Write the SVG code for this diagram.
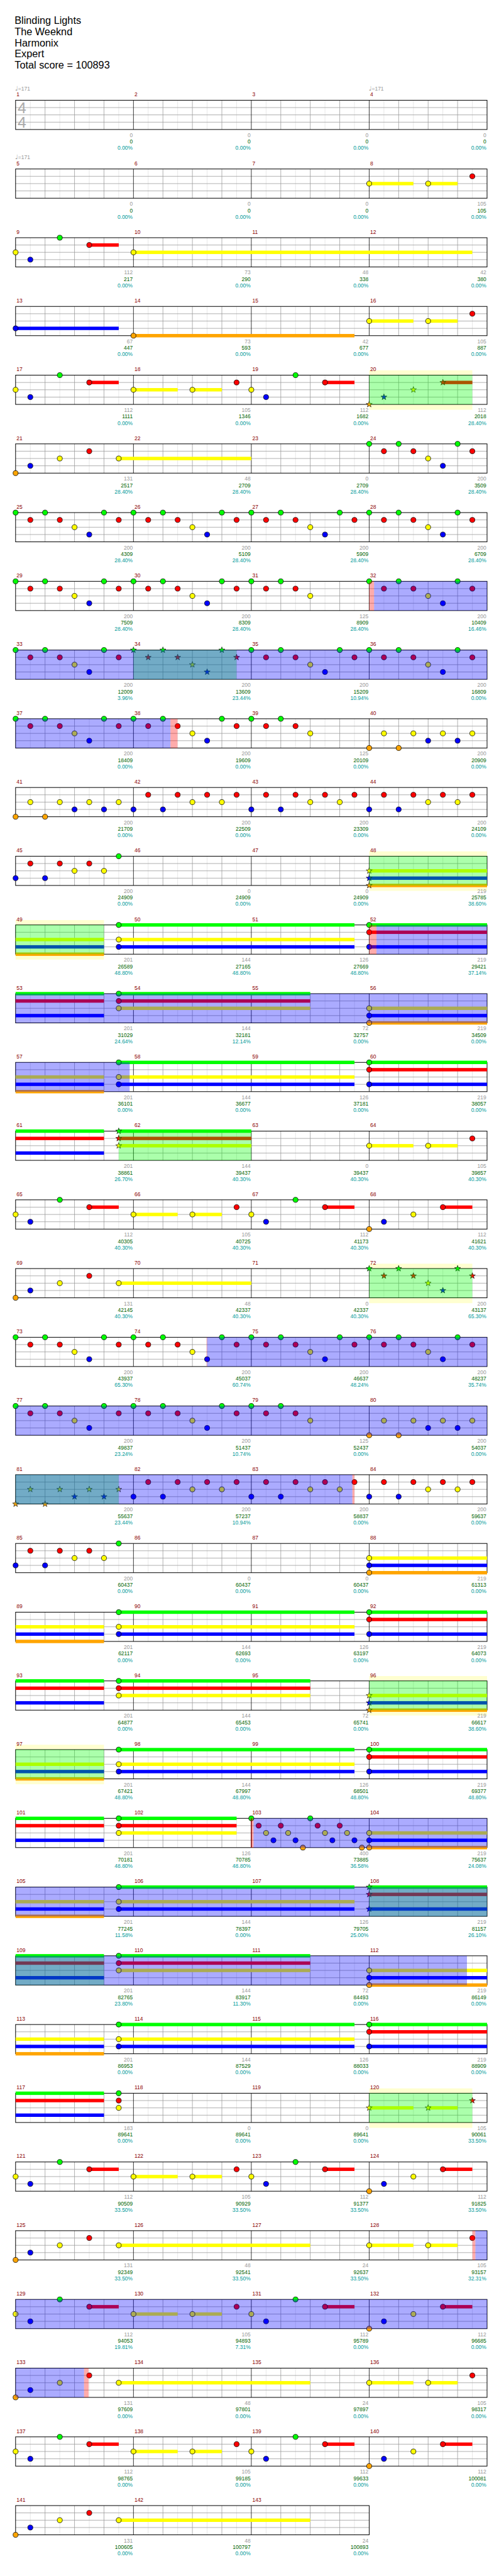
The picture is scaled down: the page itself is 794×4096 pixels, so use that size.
<svg xmlns="http://www.w3.org/2000/svg" width="794" height="4096" viewBox="0 0 794 4096">
<style>
text{font-family:"Liberation Sans",Arial,sans-serif;font-size:11px}
.t{font-size:21px;fill:#000}
.m{fill:#8b0000}
.a{fill:#999;text-anchor:end}
.s{fill:#006400;text-anchor:end}
.p{fill:#009a9a;text-anchor:end}
.tp{fill:#999}
.q{font-family:"DejaVu Sans",sans-serif;font-size:13px}
.ts{font-size:32px;fill:#aaa}
.G{fill:#0f0}.R{fill:#f00}.Y{fill:#ff0}.B{fill:#00f}.O{fill:#ffa500}
.h{fill:#ffffd0}
.sp{fill:#0f0;fill-opacity:.33}
.bl{fill:#00f;fill-opacity:.33}
.pk{fill:#f00;fill-opacity:.33}
</style>
<rect width="794" height="4096" fill="#fff"/>
<defs>
<circle id="n" r="5.2" stroke="#000" stroke-width="1"/>
<path id="s" d="M0-6.5L1.53-2.1L6.18-2.01L2.47.8L3.82 5.26L0 2.6L-3.82 5.26L-2.47.8L-6.18-2.01L-1.53-2.1Z" stroke="#000" stroke-width=".8"/>
<g id="g4">
<rect x="32" width="968" height="60" fill="#fff"/>
<path d="M62.25 0V60M122.75 0V60M183.25 0V60M243.75 0V60M304.25 0V60M364.75 0V60M425.25 0V60M485.75 0V60M546.25 0V60M606.75 0V60M667.25 0V60M727.75 0V60M788.25 0V60M848.75 0V60M909.25 0V60M969.75 0V60" stroke="#e0e0e0"/>
<path d="M92.5 0V60M153 0V60M213.5 0V60M334.5 0V60M395 0V60M455.5 0V60M576.5 0V60M637 0V60M697.5 0V60M818.5 0V60M879 0V60M939.5 0V60M32 15H1000M32 30H1000M32 45H1000" stroke="#999"/>
<path d="M274 0V60M516 0V60M758 0V60" stroke="#000"/>
<rect x="32" width="968" height="60" fill="none" stroke="#000" stroke-width="1.3"/>
</g>
<g id="g3">
<rect x="32" width="726" height="60" fill="#fff"/>
<path d="M62.25 0V60M122.75 0V60M183.25 0V60M243.75 0V60M304.25 0V60M364.75 0V60M425.25 0V60M485.75 0V60M546.25 0V60M606.75 0V60M667.25 0V60M727.75 0V60" stroke="#e0e0e0"/>
<path d="M92.5 0V60M153 0V60M213.5 0V60M334.5 0V60M395 0V60M455.5 0V60M576.5 0V60M637 0V60M697.5 0V60M32 15H758M32 30H758M32 45H758" stroke="#999"/>
<path d="M274 0V60M516 0V60" stroke="#000"/>
<rect x="32" width="726" height="60" fill="none" stroke="#000" stroke-width="1.3"/>
</g>
<g id="mD"><use href="#n" class="G"/><use href="#n" class="R" x="30.25" y="15"/><use href="#n" class="G" x="60.5"/><use href="#n" class="R" x="90.75" y="15"/><use href="#n" class="Y" x="121" y="30"/><use href="#n" class="B" x="151.25" y="45"/><use href="#n" class="G" x="181.5"/><use href="#n" class="R" x="211.75" y="15"/></g>
<g id="mDs"><use href="#s" class="G"/><use href="#s" class="R" x="30.25" y="15"/><use href="#s" class="G" x="60.5"/><use href="#s" class="R" x="90.75" y="15"/><use href="#s" class="Y" x="121" y="30"/><use href="#s" class="B" x="151.25" y="45"/><use href="#s" class="G" x="181.5"/><use href="#s" class="R" x="211.75" y="15"/></g>
<g id="mE"><use href="#n" class="G"/><use href="#n" class="R" x="30.25" y="15"/><use href="#n" class="G" x="60.5"/><use href="#n" class="R" x="90.75" y="15"/><use href="#n" class="Y" x="121" y="30"/></g>
<g id="mF"><use href="#n" class="O" y="60"/><use href="#n" class="Y" x="30.25" y="30"/><use href="#n" class="O" x="60.5" y="60"/><use href="#n" class="Y" x="90.75" y="30"/><use href="#n" class="B" x="121" y="45"/><use href="#n" class="Y" x="151.25" y="30"/><use href="#n" class="B" x="181.5" y="45"/><use href="#n" class="Y" x="211.75" y="30"/></g>
<g id="mFs"><use href="#s" class="O" y="60"/><use href="#s" class="Y" x="30.25" y="30"/><use href="#s" class="O" x="60.5" y="60"/><use href="#s" class="Y" x="90.75" y="30"/><use href="#s" class="B" x="121" y="45"/><use href="#s" class="Y" x="151.25" y="30"/><use href="#s" class="B" x="181.5" y="45"/><use href="#s" class="Y" x="211.75" y="30"/></g>
<g id="mH"><use href="#n" class="B" y="45"/><use href="#n" class="R" x="30.25" y="15"/><use href="#n" class="B" x="60.5" y="45"/><use href="#n" class="R" x="90.75" y="15"/><use href="#n" class="Y" x="121" y="30"/><use href="#n" class="R" x="151.25" y="15"/><use href="#n" class="Y" x="181.5" y="30"/><use href="#n" class="R" x="211.75" y="15"/></g>
<g id="mH7"><use href="#n" class="B" x="32" y="45"/><use href="#n" class="R" x="62.25" y="15"/><use href="#n" class="B" x="92.5" y="45"/><use href="#n" class="R" x="122.75" y="15"/><use href="#n" class="Y" x="153" y="30"/><use href="#n" class="R" x="183.25" y="15"/><use href="#n" class="Y" x="213.5" y="30"/><use href="#n" class="G" x="243.75"/></g>
<g id="rA1"><rect class="R" x="183.25" y="11.5" width="60.5" height="7"/><rect class="Y" x="274" y="26.5" width="90.75" height="7"/><rect class="Y" x="395" y="26.5" width="60.5" height="7"/><rect class="R" x="667.25" y="11.5" width="60.5" height="7"/><use href="#n" class="Y" x="32" y="30"/><use href="#n" class="B" x="62.25" y="45"/><use href="#n" class="G" x="122.75"/><use href="#n" class="R" x="183.25" y="15"/><use href="#n" class="Y" x="274" y="30"/><use href="#n" class="Y" x="395" y="30"/><use href="#n" class="R" x="485.75" y="15"/><use href="#n" class="Y" x="516" y="30"/><use href="#n" class="B" x="546.25" y="45"/><use href="#n" class="G" x="606.75"/><use href="#n" class="R" x="667.25" y="15"/></g>
<g id="rA2"><rect class="R" x="909.25" y="11.5" width="60.5" height="7"/><use href="#n" class="O" x="758" y="60"/><use href="#n" class="B" x="788.25" y="45"/><use href="#n" class="Y" x="848.75" y="30"/><use href="#n" class="R" x="909.25" y="15"/></g>
<g id="rA2s"><rect class="R" x="909.25" y="11.5" width="60.5" height="7"/><use href="#s" class="O" x="758" y="60"/><use href="#s" class="B" x="788.25" y="45"/><use href="#s" class="Y" x="848.75" y="30"/><use href="#s" class="R" x="909.25" y="15"/></g>
<g id="cS"><use href="#n" class="O" x="32" y="60"/><use href="#n" class="B" x="62.25" y="45"/><use href="#n" class="Y" x="122.75" y="30"/><use href="#n" class="R" x="183.25" y="15"/><use href="#n" class="Y" x="243.75" y="30"/></g>
<g id="tY"><rect class="Y" x="758" y="26.5" width="90.75" height="7"/><rect class="Y" x="879" y="26.5" width="60.5" height="7"/><use href="#n" class="Y" x="758" y="30"/><use href="#n" class="Y" x="879" y="30"/><use href="#n" class="R" x="969.75" y="15"/></g>
<g id="tYs"><rect class="Y" x="758" y="26.5" width="90.75" height="7"/><rect class="Y" x="879" y="26.5" width="60.5" height="7"/><use href="#s" class="Y" x="758" y="30"/><use href="#s" class="Y" x="879" y="30"/><use href="#s" class="R" x="969.75" y="15"/></g>
<g id="k1"><rect class="Y" x="32" y="26.5" width="181.5" height="7"/><rect class="B" x="32" y="41.5" width="181.5" height="7"/><rect class="O" x="32" y="56.5" width="181.5" height="7"/></g>
<g id="k2"><rect class="G" x="32" y="-3.5" width="181.5" height="7"/><rect class="R" x="32" y="11.5" width="181.5" height="7"/><rect class="B" x="32" y="41.5" width="181.5" height="7"/></g>
<g id="c1"><rect class="G" x="243.75" y="-3.5" width="484" height="7"/><rect class="Y" x="243.75" y="26.5" width="484" height="7"/><rect class="B" x="243.75" y="41.5" width="484" height="7"/><use href="#n" class="G" x="243.75"/><use href="#n" class="Y" x="243.75" y="30"/><use href="#n" class="B" x="243.75" y="45"/></g>
<g id="c2"><rect class="G" x="243.75" y="-3.5" width="393.25" height="7"/><rect class="R" x="243.75" y="11.5" width="393.25" height="7"/><rect class="Y" x="243.75" y="26.5" width="393.25" height="7"/><use href="#n" class="G" x="243.75"/><use href="#n" class="R" x="243.75" y="15"/><use href="#n" class="Y" x="243.75" y="30"/></g>
<g id="c3"><rect class="G" x="758" y="-3.5" width="242" height="7"/><rect class="R" x="758" y="11.5" width="242" height="7"/><rect class="B" x="758" y="41.5" width="242" height="7"/><use href="#n" class="G" x="758"/><use href="#n" class="R" x="758" y="15"/><use href="#n" class="B" x="758" y="45"/></g>
<g id="c3s"><rect class="G" x="758" y="-3.5" width="242" height="7"/><rect class="R" x="758" y="11.5" width="242" height="7"/><rect class="B" x="758" y="41.5" width="242" height="7"/><use href="#s" class="G" x="758"/><use href="#s" class="R" x="758" y="15"/><use href="#s" class="B" x="758" y="45"/></g>
<g id="c4"><rect class="Y" x="758" y="26.5" width="242" height="7"/><rect class="B" x="758" y="41.5" width="242" height="7"/><rect class="O" x="758" y="56.5" width="242" height="7"/><use href="#n" class="Y" x="758" y="30"/><use href="#n" class="B" x="758" y="45"/><use href="#n" class="O" x="758" y="60"/></g>
<g id="c5"><rect class="Y" x="758" y="26.5" width="242" height="7"/><rect class="B" x="758" y="41.5" width="242" height="7"/><rect class="O" x="758" y="56.5" width="242" height="7"/><use href="#s" class="Y" x="758" y="30"/><use href="#s" class="B" x="758" y="45"/><use href="#s" class="O" x="758" y="60"/></g>
</defs>
<g transform="scale(0.775)">
<g id="header">
<text class="t" x="30" y="49">Blinding Lights</text>
<text class="t" x="30" y="72">The Weeknd</text>
<text class="t" x="30" y="95">Harmonix</text>
<text class="t" x="30" y="118">Expert</text>
<text class="t" x="30" y="141">Total score = 100893</text>
</g>

<g id="row1" transform="translate(0,205.7)">
<use href="#g4"/>
<text class="ts" x="36" y="27">4</text><text class="ts" x="36" y="56">4</text>
<text class="tp" x="31" y="-20.5"><tspan class="q">♩</tspan>=171</text>
<text class="tp" x="757" y="-20.5"><tspan class="q">♩</tspan>=171</text>
<text class="m" x="34" y="-8">1</text><text class="m" x="276" y="-8">2</text><text class="m" x="518" y="-8">3</text><text class="m" x="760" y="-8">4</text>
<text class="a" x="272.5" y="75.5">0</text><text class="a" x="514.5" y="75.5">0</text><text class="a" x="756.5" y="75.5">0</text><text class="a" x="998.5" y="75.5">0</text>
<text class="s" x="272.5" y="89">0</text><text class="s" x="514.5" y="89">0</text><text class="s" x="756.5" y="89">0</text><text class="s" x="998.5" y="89">0</text>
<text class="p" x="272.5" y="102">0.00%</text><text class="p" x="514.5" y="102">0.00%</text><text class="p" x="756.5" y="102">0.00%</text><text class="p" x="998.5" y="102">0.00%</text>
</g>

<g id="row2" transform="translate(0,346.7)">
<use href="#g4"/>
<use href="#tY"/>
<text class="tp" x="31" y="-20.5"><tspan class="q">♩</tspan>=171</text>
<text class="m" x="34" y="-8">5</text><text class="m" x="276" y="-8">6</text><text class="m" x="518" y="-8">7</text><text class="m" x="760" y="-8">8</text>
<text class="a" x="272.5" y="75.5">0</text><text class="a" x="514.5" y="75.5">0</text><text class="a" x="756.5" y="75.5">0</text><text class="a" x="998.5" y="75.5">105</text>
<text class="s" x="272.5" y="89">0</text><text class="s" x="514.5" y="89">0</text><text class="s" x="756.5" y="89">0</text><text class="s" x="998.5" y="89">105</text>
<text class="p" x="272.5" y="102">0.00%</text><text class="p" x="514.5" y="102">0.00%</text><text class="p" x="756.5" y="102">0.00%</text><text class="p" x="998.5" y="102">0.00%</text>
</g>

<g id="row3" transform="translate(0,487.7)">
<use href="#g4"/>
<rect class="R" x="183.25" y="11.5" width="60.5" height="7"/><rect class="Y" x="274" y="26.5" width="695.75" height="7"/>
<use href="#n" class="Y" x="32" y="30"/><use href="#n" class="B" x="62.25" y="45"/><use href="#n" class="G" x="122.75"/><use href="#n" class="R" x="183.25" y="15"/><use href="#n" class="Y" x="274" y="30"/>
<text class="m" x="34" y="-8">9</text><text class="m" x="276" y="-8">10</text><text class="m" x="518" y="-8">11</text><text class="m" x="760" y="-8">12</text>
<text class="a" x="272.5" y="75.5">112</text><text class="a" x="514.5" y="75.5">73</text><text class="a" x="756.5" y="75.5">48</text><text class="a" x="998.5" y="75.5">42</text>
<text class="s" x="272.5" y="89">217</text><text class="s" x="514.5" y="89">290</text><text class="s" x="756.5" y="89">338</text><text class="s" x="998.5" y="89">380</text>
<text class="p" x="272.5" y="102">0.00%</text><text class="p" x="514.5" y="102">0.00%</text><text class="p" x="756.5" y="102">0.00%</text><text class="p" x="998.5" y="102">0.00%</text>
</g>

<g id="row4" transform="translate(0,628.7)">
<use href="#g4"/>
<rect class="B" x="32" y="41.5" width="211.75" height="7"/><rect class="O" x="274" y="56.5" width="453.75" height="7"/>
<use href="#n" class="B" x="32" y="45"/><use href="#n" class="O" x="274" y="60"/>
<use href="#tY"/>
<text class="m" x="34" y="-8">13</text><text class="m" x="276" y="-8">14</text><text class="m" x="518" y="-8">15</text><text class="m" x="760" y="-8">16</text>
<text class="a" x="272.5" y="75.5">67</text><text class="a" x="514.5" y="75.5">73</text><text class="a" x="756.5" y="75.5">42</text><text class="a" x="998.5" y="75.5">105</text>
<text class="s" x="272.5" y="89">447</text><text class="s" x="514.5" y="89">593</text><text class="s" x="756.5" y="89">677</text><text class="s" x="998.5" y="89">887</text>
<text class="p" x="272.5" y="102">0.00%</text><text class="p" x="514.5" y="102">0.00%</text><text class="p" x="756.5" y="102">0.00%</text><text class="p" x="998.5" y="102">0.00%</text>
</g>

<g id="row5" transform="translate(0,769.7)">
<rect class="h" x="758" y="-10" width="211.75" height="81"/>
<use href="#g4"/>
<use href="#rA1"/><use href="#rA2s"/>
<rect class="sp" x="758" width="211.75" height="60"/>
<text class="m" x="34" y="-8">17</text><text class="m" x="276" y="-8">18</text><text class="m" x="518" y="-8">19</text><text class="m" x="760" y="-8">20</text>
<text class="a" x="272.5" y="75.5">112</text><text class="a" x="514.5" y="75.5">105</text><text class="a" x="756.5" y="75.5">112</text><text class="a" x="998.5" y="75.5">112</text>
<text class="s" x="272.5" y="89">1111</text><text class="s" x="514.5" y="89">1346</text><text class="s" x="756.5" y="89">1682</text><text class="s" x="998.5" y="89">2018</text>
<text class="p" x="272.5" y="102">0.00%</text><text class="p" x="514.5" y="102">0.00%</text><text class="p" x="756.5" y="102">0.00%</text><text class="p" x="998.5" y="102">28.40%</text>
</g>

<g id="row6" transform="translate(0,910.7)">
<use href="#g4"/>
<rect class="Y" x="243.75" y="26.5" width="272.25" height="7"/><use href="#cS"/>
<use href="#mD" x="758"/>
<text class="m" x="34" y="-8">21</text><text class="m" x="276" y="-8">22</text><text class="m" x="518" y="-8">23</text><text class="m" x="760" y="-8">24</text>
<text class="a" x="272.5" y="75.5">131</text><text class="a" x="514.5" y="75.5">48</text><text class="a" x="756.5" y="75.5">0</text><text class="a" x="998.5" y="75.5">200</text>
<text class="s" x="272.5" y="89">2517</text><text class="s" x="514.5" y="89">2709</text><text class="s" x="756.5" y="89">2709</text><text class="s" x="998.5" y="89">3509</text>
<text class="p" x="272.5" y="102">28.40%</text><text class="p" x="514.5" y="102">28.40%</text><text class="p" x="756.5" y="102">28.40%</text><text class="p" x="998.5" y="102">28.40%</text>
</g>

<g id="row7" transform="translate(0,1051.7)">
<use href="#g4"/>
<use href="#mD" x="32"/><use href="#mD" x="274"/><use href="#mD" x="516"/><use href="#mD" x="758"/>
<text class="m" x="34" y="-8">25</text><text class="m" x="276" y="-8">26</text><text class="m" x="518" y="-8">27</text><text class="m" x="760" y="-8">28</text>
<text class="a" x="272.5" y="75.5">200</text><text class="a" x="514.5" y="75.5">200</text><text class="a" x="756.5" y="75.5">200</text><text class="a" x="998.5" y="75.5">200</text>
<text class="s" x="272.5" y="89">4309</text><text class="s" x="514.5" y="89">5109</text><text class="s" x="756.5" y="89">5909</text><text class="s" x="998.5" y="89">6709</text>
<text class="p" x="272.5" y="102">28.40%</text><text class="p" x="514.5" y="102">28.40%</text><text class="p" x="756.5" y="102">28.40%</text><text class="p" x="998.5" y="102">28.40%</text>
</g>

<g id="row8" transform="translate(0,1192.7)">
<use href="#g4"/>
<use href="#mD" x="32"/><use href="#mD" x="274"/><use href="#mE" x="516"/><use href="#mD" x="758"/>
<rect class="pk" x="758" width="10" height="60"/><rect class="bl" x="768" width="232" height="60"/>
<text class="m" x="34" y="-8">29</text><text class="m" x="276" y="-8">30</text><text class="m" x="518" y="-8">31</text><text class="m" x="760" y="-8">32</text>
<text class="a" x="272.5" y="75.5">200</text><text class="a" x="514.5" y="75.5">200</text><text class="a" x="756.5" y="75.5">125</text><text class="a" x="998.5" y="75.5">200</text>
<text class="s" x="272.5" y="89">7509</text><text class="s" x="514.5" y="89">8309</text><text class="s" x="756.5" y="89">8909</text><text class="s" x="998.5" y="89">10409</text>
<text class="p" x="272.5" y="102">28.40%</text><text class="p" x="514.5" y="102">28.40%</text><text class="p" x="756.5" y="102">28.40%</text><text class="p" x="998.5" y="102">16.46%</text>
</g>

<g id="row9" transform="translate(0,1333.7)">
<use href="#g4"/>
<use href="#mD" x="32"/><use href="#mDs" x="274"/><use href="#mD" x="516"/><use href="#mD" x="758"/>
<rect class="sp" x="274" width="211.75" height="60"/><rect class="bl" x="32" width="968" height="60"/>
<text class="m" x="34" y="-8">33</text><text class="m" x="276" y="-8">34</text><text class="m" x="518" y="-8">35</text><text class="m" x="760" y="-8">36</text>
<text class="a" x="272.5" y="75.5">200</text><text class="a" x="514.5" y="75.5">200</text><text class="a" x="756.5" y="75.5">200</text><text class="a" x="998.5" y="75.5">200</text>
<text class="s" x="272.5" y="89">12009</text><text class="s" x="514.5" y="89">13609</text><text class="s" x="756.5" y="89">15209</text><text class="s" x="998.5" y="89">16809</text>
<text class="p" x="272.5" y="102">3.96%</text><text class="p" x="514.5" y="102">23.44%</text><text class="p" x="756.5" y="102">10.94%</text><text class="p" x="998.5" y="102">0.00%</text>
</g>

<g id="row10" transform="translate(0,1474.7)">
<use href="#g4"/>
<use href="#mD" x="32"/><use href="#mD" x="274"/><use href="#mE" x="516"/><use href="#mF" x="758"/>
<rect class="bl" x="32" width="318" height="60"/><rect class="pk" x="350" width="14.4" height="60"/>
<text class="m" x="34" y="-8">37</text><text class="m" x="276" y="-8">38</text><text class="m" x="518" y="-8">39</text><text class="m" x="760" y="-8">40</text>
<text class="a" x="272.5" y="75.5">200</text><text class="a" x="514.5" y="75.5">200</text><text class="a" x="756.5" y="75.5">125</text><text class="a" x="998.5" y="75.5">200</text>
<text class="s" x="272.5" y="89">18409</text><text class="s" x="514.5" y="89">19609</text><text class="s" x="756.5" y="89">20109</text><text class="s" x="998.5" y="89">20909</text>
<text class="p" x="272.5" y="102">0.00%</text><text class="p" x="514.5" y="102">0.00%</text><text class="p" x="756.5" y="102">0.00%</text><text class="p" x="998.5" y="102">0.00%</text>
</g>

<g id="row11" transform="translate(0,1615.7)">
<use href="#g4"/>
<use href="#mF" x="32"/><use href="#mH" x="274"/><use href="#mH" x="516"/><use href="#mH" x="758"/>
<text class="m" x="34" y="-8">41</text><text class="m" x="276" y="-8">42</text><text class="m" x="518" y="-8">43</text><text class="m" x="760" y="-8">44</text>
<text class="a" x="272.5" y="75.5">200</text><text class="a" x="514.5" y="75.5">200</text><text class="a" x="756.5" y="75.5">200</text><text class="a" x="998.5" y="75.5">200</text>
<text class="s" x="272.5" y="89">21709</text><text class="s" x="514.5" y="89">22509</text><text class="s" x="756.5" y="89">23309</text><text class="s" x="998.5" y="89">24109</text>
<text class="p" x="272.5" y="102">0.00%</text><text class="p" x="514.5" y="102">0.00%</text><text class="p" x="756.5" y="102">0.00%</text><text class="p" x="998.5" y="102">0.00%</text>
</g>

<g id="row12" transform="translate(0,1756.7)">
<rect class="h" x="758" y="-10" width="242" height="81"/>
<use href="#g4"/>
<use href="#mH7"/><use href="#c5"/>
<rect class="sp" x="758" width="242" height="60"/>
<text class="m" x="34" y="-8">45</text><text class="m" x="276" y="-8">46</text><text class="m" x="518" y="-8">47</text><text class="m" x="760" y="-8">48</text>
<text class="a" x="272.5" y="75.5">200</text><text class="a" x="514.5" y="75.5">0</text><text class="a" x="756.5" y="75.5">0</text><text class="a" x="998.5" y="75.5">219</text>
<text class="s" x="272.5" y="89">24909</text><text class="s" x="514.5" y="89">24909</text><text class="s" x="756.5" y="89">24909</text><text class="s" x="998.5" y="89">25785</text>
<text class="p" x="272.5" y="102">0.00%</text><text class="p" x="514.5" y="102">0.00%</text><text class="p" x="756.5" y="102">0.00%</text><text class="p" x="998.5" y="102">38.60%</text>
</g>

<g id="row13" transform="translate(0,1897.7)">
<rect class="h" x="32" y="-10" width="181.5" height="81"/>
<use href="#g4"/>
<use href="#k1"/><use href="#c1"/><use href="#c3"/>
<rect class="sp" x="32" width="181.5" height="60"/><rect class="pk" x="758" width="15" height="60"/><rect class="bl" x="773" width="227" height="60"/>
<text class="m" x="34" y="-8">49</text><text class="m" x="276" y="-8">50</text><text class="m" x="518" y="-8">51</text><text class="m" x="760" y="-8">52</text>
<text class="a" x="272.5" y="75.5">201</text><text class="a" x="514.5" y="75.5">144</text><text class="a" x="756.5" y="75.5">126</text><text class="a" x="998.5" y="75.5">219</text>
<text class="s" x="272.5" y="89">26589</text><text class="s" x="514.5" y="89">27165</text><text class="s" x="756.5" y="89">27669</text><text class="s" x="998.5" y="89">29421</text>
<text class="p" x="272.5" y="102">48.80%</text><text class="p" x="514.5" y="102">48.80%</text><text class="p" x="756.5" y="102">48.80%</text><text class="p" x="998.5" y="102">37.14%</text>
</g>

<g id="row14" transform="translate(0,2038.7)">
<use href="#g4"/>
<use href="#k2"/><use href="#c2"/><use href="#c4"/>
<rect class="bl" x="32" width="968" height="60"/>
<text class="m" x="34" y="-8">53</text><text class="m" x="276" y="-8">54</text><text class="m" x="518" y="-8">55</text><text class="m" x="760" y="-8">56</text>
<text class="a" x="272.5" y="75.5">201</text><text class="a" x="514.5" y="75.5">144</text><text class="a" x="756.5" y="75.5">72</text><text class="a" x="998.5" y="75.5">219</text>
<text class="s" x="272.5" y="89">31029</text><text class="s" x="514.5" y="89">32181</text><text class="s" x="756.5" y="89">32757</text><text class="s" x="998.5" y="89">34509</text>
<text class="p" x="272.5" y="102">24.64%</text><text class="p" x="514.5" y="102">12.14%</text><text class="p" x="756.5" y="102">0.00%</text><text class="p" x="998.5" y="102">0.00%</text>
</g>

<g id="row15" transform="translate(0,2179.7)">
<use href="#g4"/>
<use href="#k1"/><use href="#c1"/><use href="#c3"/>
<rect class="bl" x="32" width="234.2" height="60"/>
<text class="m" x="34" y="-8">57</text><text class="m" x="276" y="-8">58</text><text class="m" x="518" y="-8">59</text><text class="m" x="760" y="-8">60</text>
<text class="a" x="272.5" y="75.5">201</text><text class="a" x="514.5" y="75.5">144</text><text class="a" x="756.5" y="75.5">126</text><text class="a" x="998.5" y="75.5">219</text>
<text class="s" x="272.5" y="89">36101</text><text class="s" x="514.5" y="89">36677</text><text class="s" x="756.5" y="89">37181</text><text class="s" x="998.5" y="89">38057</text>
<text class="p" x="272.5" y="102">0.00%</text><text class="p" x="514.5" y="102">0.00%</text><text class="p" x="756.5" y="102">0.00%</text><text class="p" x="998.5" y="102">0.00%</text>
</g>

<g id="row16" transform="translate(0,2320.7)">
<use href="#g4"/>
<use href="#k2"/>
<rect class="G" x="243.75" y="-3.5" width="272.25" height="7"/><rect class="R" x="243.75" y="11.5" width="272.25" height="7"/><rect class="Y" x="243.75" y="26.5" width="272.25" height="7"/>
<use href="#s" class="G" x="243.75"/><use href="#s" class="R" x="243.75" y="15"/><use href="#s" class="Y" x="243.75" y="30"/>
<use href="#tY"/>
<rect class="sp" x="243.75" width="272.25" height="60"/>
<text class="m" x="34" y="-8">61</text><text class="m" x="276" y="-8">62</text><text class="m" x="518" y="-8">63</text><text class="m" x="760" y="-8">64</text>
<text class="a" x="272.5" y="75.5">201</text><text class="a" x="514.5" y="75.5">144</text><text class="a" x="756.5" y="75.5">0</text><text class="a" x="998.5" y="75.5">105</text>
<text class="s" x="272.5" y="89">38861</text><text class="s" x="514.5" y="89">39437</text><text class="s" x="756.5" y="89">39437</text><text class="s" x="998.5" y="89">39857</text>
<text class="p" x="272.5" y="102">26.70%</text><text class="p" x="514.5" y="102">40.30%</text><text class="p" x="756.5" y="102">40.30%</text><text class="p" x="998.5" y="102">40.30%</text>
</g>

<g id="row17" transform="translate(0,2461.7)">
<use href="#g4"/>
<use href="#rA1"/><use href="#rA2"/>
<text class="m" x="34" y="-8">65</text><text class="m" x="276" y="-8">66</text><text class="m" x="518" y="-8">67</text><text class="m" x="760" y="-8">68</text>
<text class="a" x="272.5" y="75.5">112</text><text class="a" x="514.5" y="75.5">105</text><text class="a" x="756.5" y="75.5">112</text><text class="a" x="998.5" y="75.5">112</text>
<text class="s" x="272.5" y="89">40305</text><text class="s" x="514.5" y="89">40725</text><text class="s" x="756.5" y="89">41173</text><text class="s" x="998.5" y="89">41621</text>
<text class="p" x="272.5" y="102">40.30%</text><text class="p" x="514.5" y="102">40.30%</text><text class="p" x="756.5" y="102">40.30%</text><text class="p" x="998.5" y="102">40.30%</text>
</g>

<g id="row18" transform="translate(0,2602.7)">
<rect class="h" x="758" y="-10" width="211.75" height="81"/>
<use href="#g4"/>
<rect class="Y" x="243.75" y="26.5" width="272.25" height="7"/><use href="#cS"/>
<use href="#mDs" x="758"/>
<rect class="sp" x="758" width="211.75" height="60"/>
<text class="m" x="34" y="-8">69</text><text class="m" x="276" y="-8">70</text><text class="m" x="518" y="-8">71</text><text class="m" x="760" y="-8">72</text>
<text class="a" x="272.5" y="75.5">131</text><text class="a" x="514.5" y="75.5">48</text><text class="a" x="756.5" y="75.5">0</text><text class="a" x="998.5" y="75.5">200</text>
<text class="s" x="272.5" y="89">42145</text><text class="s" x="514.5" y="89">42337</text><text class="s" x="756.5" y="89">42337</text><text class="s" x="998.5" y="89">43137</text>
<text class="p" x="272.5" y="102">40.30%</text><text class="p" x="514.5" y="102">40.30%</text><text class="p" x="756.5" y="102">40.30%</text><text class="p" x="998.5" y="102">65.30%</text>
</g>

<g id="row19" transform="translate(0,2743.7)">
<use href="#g4"/>
<use href="#mD" x="32"/><use href="#mD" x="274"/><use href="#mD" x="516"/><use href="#mD" x="758"/>
<rect class="pk" x="424" width="1.25" height="60"/><rect class="bl" x="425.25" width="574.75" height="60"/>
<text class="m" x="34" y="-8">73</text><text class="m" x="276" y="-8">74</text><text class="m" x="518" y="-8">75</text><text class="m" x="760" y="-8">76</text>
<text class="a" x="272.5" y="75.5">200</text><text class="a" x="514.5" y="75.5">200</text><text class="a" x="756.5" y="75.5">200</text><text class="a" x="998.5" y="75.5">200</text>
<text class="s" x="272.5" y="89">43937</text><text class="s" x="514.5" y="89">45037</text><text class="s" x="756.5" y="89">46637</text><text class="s" x="998.5" y="89">48237</text>
<text class="p" x="272.5" y="102">65.30%</text><text class="p" x="514.5" y="102">60.74%</text><text class="p" x="756.5" y="102">48.24%</text><text class="p" x="998.5" y="102">35.74%</text>
</g>

<g id="row20" transform="translate(0,2884.7)">
<use href="#g4"/>
<use href="#mD" x="32"/><use href="#mD" x="274"/><use href="#mE" x="516"/><use href="#mF" x="758"/>
<rect class="bl" x="32" width="968" height="60"/>
<text class="m" x="34" y="-8">77</text><text class="m" x="276" y="-8">78</text><text class="m" x="518" y="-8">79</text><text class="m" x="760" y="-8">80</text>
<text class="a" x="272.5" y="75.5">200</text><text class="a" x="514.5" y="75.5">200</text><text class="a" x="756.5" y="75.5">125</text><text class="a" x="998.5" y="75.5">200</text>
<text class="s" x="272.5" y="89">49837</text><text class="s" x="514.5" y="89">51437</text><text class="s" x="756.5" y="89">52437</text><text class="s" x="998.5" y="89">54037</text>
<text class="p" x="272.5" y="102">23.24%</text><text class="p" x="514.5" y="102">10.74%</text><text class="p" x="756.5" y="102">0.00%</text><text class="p" x="998.5" y="102">0.00%</text>
</g>

<g id="row21" transform="translate(0,3025.7)">
<use href="#g4"/>
<use href="#mFs" x="32"/><use href="#mH" x="274"/><use href="#mH" x="516"/><use href="#mH" x="758"/>
<rect class="sp" x="32" width="211.75" height="60"/><rect class="bl" x="32" width="691.5" height="60"/><rect class="pk" x="723.5" width="4.25" height="60"/>
<text class="m" x="34" y="-8">81</text><text class="m" x="276" y="-8">82</text><text class="m" x="518" y="-8">83</text><text class="m" x="760" y="-8">84</text>
<text class="a" x="272.5" y="75.5">200</text><text class="a" x="514.5" y="75.5">200</text><text class="a" x="756.5" y="75.5">200</text><text class="a" x="998.5" y="75.5">200</text>
<text class="s" x="272.5" y="89">55637</text><text class="s" x="514.5" y="89">57237</text><text class="s" x="756.5" y="89">58837</text><text class="s" x="998.5" y="89">59637</text>
<text class="p" x="272.5" y="102">23.44%</text><text class="p" x="514.5" y="102">10.94%</text><text class="p" x="756.5" y="102">0.00%</text><text class="p" x="998.5" y="102">0.00%</text>
</g>

<g id="row22" transform="translate(0,3166.7)">
<use href="#g4"/>
<use href="#mH7"/><use href="#c4"/>
<text class="m" x="34" y="-8">85</text><text class="m" x="276" y="-8">86</text><text class="m" x="518" y="-8">87</text><text class="m" x="760" y="-8">88</text>
<text class="a" x="272.5" y="75.5">200</text><text class="a" x="514.5" y="75.5">0</text><text class="a" x="756.5" y="75.5">0</text><text class="a" x="998.5" y="75.5">219</text>
<text class="s" x="272.5" y="89">60437</text><text class="s" x="514.5" y="89">60437</text><text class="s" x="756.5" y="89">60437</text><text class="s" x="998.5" y="89">61313</text>
<text class="p" x="272.5" y="102">0.00%</text><text class="p" x="514.5" y="102">0.00%</text><text class="p" x="756.5" y="102">0.00%</text><text class="p" x="998.5" y="102">0.00%</text>
</g>

<g id="row23" transform="translate(0,3307.7)">
<use href="#g4"/>
<use href="#k1"/><use href="#c1"/><use href="#c3"/>
<text class="m" x="34" y="-8">89</text><text class="m" x="276" y="-8">90</text><text class="m" x="518" y="-8">91</text><text class="m" x="760" y="-8">92</text>
<text class="a" x="272.5" y="75.5">201</text><text class="a" x="514.5" y="75.5">144</text><text class="a" x="756.5" y="75.5">126</text><text class="a" x="998.5" y="75.5">219</text>
<text class="s" x="272.5" y="89">62117</text><text class="s" x="514.5" y="89">62693</text><text class="s" x="756.5" y="89">63197</text><text class="s" x="998.5" y="89">64073</text>
<text class="p" x="272.5" y="102">0.00%</text><text class="p" x="514.5" y="102">0.00%</text><text class="p" x="756.5" y="102">0.00%</text><text class="p" x="998.5" y="102">0.00%</text>
</g>

<g id="row24" transform="translate(0,3448.7)">
<rect class="h" x="758" y="-10" width="242" height="81"/>
<use href="#g4"/>
<use href="#k2"/><use href="#c2"/><use href="#c5"/>
<rect class="sp" x="758" width="242" height="60"/>
<text class="m" x="34" y="-8">93</text><text class="m" x="276" y="-8">94</text><text class="m" x="518" y="-8">95</text><text class="m" x="760" y="-8">96</text>
<text class="a" x="272.5" y="75.5">201</text><text class="a" x="514.5" y="75.5">144</text><text class="a" x="756.5" y="75.5">72</text><text class="a" x="998.5" y="75.5">219</text>
<text class="s" x="272.5" y="89">64877</text><text class="s" x="514.5" y="89">65453</text><text class="s" x="756.5" y="89">65741</text><text class="s" x="998.5" y="89">66617</text>
<text class="p" x="272.5" y="102">0.00%</text><text class="p" x="514.5" y="102">0.00%</text><text class="p" x="756.5" y="102">0.00%</text><text class="p" x="998.5" y="102">38.60%</text>
</g>

<g id="row25" transform="translate(0,3589.7)">
<rect class="h" x="32" y="-10" width="181.5" height="81"/>
<use href="#g4"/>
<use href="#k1"/><use href="#c1"/><use href="#c3"/>
<rect class="sp" x="32" width="181.5" height="60"/>
<text class="m" x="34" y="-8">97</text><text class="m" x="276" y="-8">98</text><text class="m" x="518" y="-8">99</text><text class="m" x="760" y="-8">100</text>
<text class="a" x="272.5" y="75.5">201</text><text class="a" x="514.5" y="75.5">144</text><text class="a" x="756.5" y="75.5">126</text><text class="a" x="998.5" y="75.5">219</text>
<text class="s" x="272.5" y="89">67421</text><text class="s" x="514.5" y="89">67997</text><text class="s" x="756.5" y="89">68501</text><text class="s" x="998.5" y="89">69377</text>
<text class="p" x="272.5" y="102">48.80%</text><text class="p" x="514.5" y="102">48.80%</text><text class="p" x="756.5" y="102">48.80%</text><text class="p" x="998.5" y="102">48.80%</text>
</g>

<g id="row26" transform="translate(0,3730.7)">
<use href="#g4"/>
<use href="#k2"/>
<rect class="G" x="243.75" y="-3.5" width="242" height="7"/><rect class="R" x="243.75" y="11.5" width="242" height="7"/><rect class="Y" x="243.75" y="26.5" width="242" height="7"/>
<use href="#n" class="G" x="243.75"/><use href="#n" class="R" x="243.75" y="15"/><use href="#n" class="Y" x="243.75" y="30"/>
<use href="#n" class="G" x="516"/>
<use href="#n" class="R" x="531.1" y="15"/><use href="#n" class="Y" x="546.25" y="30"/><use href="#n" class="B" x="561.4" y="45"/><use href="#n" class="R" x="576.5" y="15"/><use href="#n" class="Y" x="591.6" y="30"/><use href="#n" class="B" x="606.75" y="45"/><use href="#n" class="O" x="621.9" y="60"/><use href="#n" class="G" x="637"/><use href="#n" class="R" x="652.1" y="15"/><use href="#n" class="Y" x="667.25" y="30"/><use href="#n" class="B" x="682.4" y="45"/><use href="#n" class="R" x="697.5" y="15"/><use href="#n" class="Y" x="712.6" y="30"/><use href="#n" class="B" x="727.75" y="45"/><use href="#n" class="O" x="742.9" y="60"/>
<use href="#c4"/>
<rect class="pk" x="516" width="4.6" height="60"/><rect class="bl" x="520.6" width="479.4" height="60"/>
<path d="M516 0V60" stroke="#8b0000" stroke-width="1.5"/>
<text class="m" x="34" y="-8">101</text><text class="m" x="276" y="-8">102</text><text class="m" x="518" y="-8">103</text><text class="m" x="760" y="-8">104</text>
<text class="a" x="272.5" y="75.5">201</text><text class="a" x="514.5" y="75.5">126</text><text class="a" x="756.5" y="75.5">400</text><text class="a" x="998.5" y="75.5">219</text>
<text class="s" x="272.5" y="89">70181</text><text class="s" x="514.5" y="89">70785</text><text class="s" x="756.5" y="89">73885</text><text class="s" x="998.5" y="89">75637</text>
<text class="p" x="272.5" y="102">48.80%</text><text class="p" x="514.5" y="102">48.80%</text><text class="p" x="756.5" y="102">36.58%</text><text class="p" x="998.5" y="102">24.08%</text>
</g>

<g id="row27" transform="translate(0,3871.7)">
<use href="#g4"/>
<use href="#k1"/><use href="#c1"/><use href="#c3s"/>
<rect class="sp" x="758" width="242" height="60"/><rect class="bl" x="32" width="968" height="60"/>
<text class="m" x="34" y="-8">105</text><text class="m" x="276" y="-8">106</text><text class="m" x="518" y="-8">107</text><text class="m" x="760" y="-8">108</text>
<text class="a" x="272.5" y="75.5">201</text><text class="a" x="514.5" y="75.5">144</text><text class="a" x="756.5" y="75.5">126</text><text class="a" x="998.5" y="75.5">219</text>
<text class="s" x="272.5" y="89">77245</text><text class="s" x="514.5" y="89">78397</text><text class="s" x="756.5" y="89">79705</text><text class="s" x="998.5" y="89">81157</text>
<text class="p" x="272.5" y="102">11.58%</text><text class="p" x="514.5" y="102">0.00%</text><text class="p" x="756.5" y="102">25.00%</text><text class="p" x="998.5" y="102">26.10%</text>
</g>

<g id="row28" transform="translate(0,4012.7)">
<use href="#g4"/>
<use href="#k2"/><use href="#c2"/><use href="#c4"/>
<rect class="sp" x="32" width="181.5" height="60"/><rect class="bl" x="32" width="926.7" height="60"/>
<text class="m" x="34" y="-8">109</text><text class="m" x="276" y="-8">110</text><text class="m" x="518" y="-8">111</text><text class="m" x="760" y="-8">112</text>
<text class="a" x="272.5" y="75.5">201</text><text class="a" x="514.5" y="75.5">144</text><text class="a" x="756.5" y="75.5">72</text><text class="a" x="998.5" y="75.5">219</text>
<text class="s" x="272.5" y="89">82765</text><text class="s" x="514.5" y="89">83917</text><text class="s" x="756.5" y="89">84493</text><text class="s" x="998.5" y="89">86149</text>
<text class="p" x="272.5" y="102">23.80%</text><text class="p" x="514.5" y="102">11.30%</text><text class="p" x="756.5" y="102">0.00%</text><text class="p" x="998.5" y="102">0.00%</text>
</g>

<g id="row29" transform="translate(0,4153.7)">
<use href="#g4"/>
<use href="#k1"/><use href="#c1"/><use href="#c3"/>
<text class="m" x="34" y="-8">113</text><text class="m" x="276" y="-8">114</text><text class="m" x="518" y="-8">115</text><text class="m" x="760" y="-8">116</text>
<text class="a" x="272.5" y="75.5">201</text><text class="a" x="514.5" y="75.5">144</text><text class="a" x="756.5" y="75.5">126</text><text class="a" x="998.5" y="75.5">219</text>
<text class="s" x="272.5" y="89">86953</text><text class="s" x="514.5" y="89">87529</text><text class="s" x="756.5" y="89">88033</text><text class="s" x="998.5" y="89">88909</text>
<text class="p" x="272.5" y="102">0.00%</text><text class="p" x="514.5" y="102">0.00%</text><text class="p" x="756.5" y="102">0.00%</text><text class="p" x="998.5" y="102">0.00%</text>
</g>

<g id="row30" transform="translate(0,4294.7)">
<rect class="h" x="758" y="-10" width="211.75" height="81"/>
<use href="#g4"/>
<use href="#k2"/>
<use href="#n" class="G" x="243.75"/><use href="#n" class="R" x="243.75" y="15"/><use href="#n" class="Y" x="243.75" y="30"/>
<use href="#tYs"/>
<rect class="sp" x="758" width="211.75" height="60"/>
<text class="m" x="34" y="-8">117</text><text class="m" x="276" y="-8">118</text><text class="m" x="518" y="-8">119</text><text class="m" x="760" y="-8">120</text>
<text class="a" x="272.5" y="75.5">183</text><text class="a" x="514.5" y="75.5">0</text><text class="a" x="756.5" y="75.5">0</text><text class="a" x="998.5" y="75.5">105</text>
<text class="s" x="272.5" y="89">89641</text><text class="s" x="514.5" y="89">89641</text><text class="s" x="756.5" y="89">89641</text><text class="s" x="998.5" y="89">90061</text>
<text class="p" x="272.5" y="102">0.00%</text><text class="p" x="514.5" y="102">0.00%</text><text class="p" x="756.5" y="102">0.00%</text><text class="p" x="998.5" y="102">33.50%</text>
</g>

<g id="row31" transform="translate(0,4435.7)">
<use href="#g4"/>
<use href="#rA1"/><use href="#rA2"/>
<text class="m" x="34" y="-8">121</text><text class="m" x="276" y="-8">122</text><text class="m" x="518" y="-8">123</text><text class="m" x="760" y="-8">124</text>
<text class="a" x="272.5" y="75.5">112</text><text class="a" x="514.5" y="75.5">105</text><text class="a" x="756.5" y="75.5">112</text><text class="a" x="998.5" y="75.5">112</text>
<text class="s" x="272.5" y="89">90509</text><text class="s" x="514.5" y="89">90929</text><text class="s" x="756.5" y="89">91377</text><text class="s" x="998.5" y="89">91825</text>
<text class="p" x="272.5" y="102">33.50%</text><text class="p" x="514.5" y="102">33.50%</text><text class="p" x="756.5" y="102">33.50%</text><text class="p" x="998.5" y="102">33.50%</text>
</g>

<g id="row32" transform="translate(0,4576.7)">
<use href="#g4"/>
<rect class="Y" x="243.75" y="26.5" width="393.25" height="7"/><use href="#cS"/>
<use href="#tY"/>
<rect class="pk" x="970" width="6" height="60"/><rect class="bl" x="976" width="24" height="60"/>
<text class="m" x="34" y="-8">125</text><text class="m" x="276" y="-8">126</text><text class="m" x="518" y="-8">127</text><text class="m" x="760" y="-8">128</text>
<text class="a" x="272.5" y="75.5">131</text><text class="a" x="514.5" y="75.5">48</text><text class="a" x="756.5" y="75.5">24</text><text class="a" x="998.5" y="75.5">105</text>
<text class="s" x="272.5" y="89">92349</text><text class="s" x="514.5" y="89">92541</text><text class="s" x="756.5" y="89">92637</text><text class="s" x="998.5" y="89">93157</text>
<text class="p" x="272.5" y="102">33.50%</text><text class="p" x="514.5" y="102">33.50%</text><text class="p" x="756.5" y="102">33.50%</text><text class="p" x="998.5" y="102">32.31%</text>
</g>

<g id="row33" transform="translate(0,4717.7)">
<use href="#g4"/>
<use href="#rA1"/><use href="#rA2"/>
<rect class="bl" x="32" width="968" height="60"/>
<text class="m" x="34" y="-8">129</text><text class="m" x="276" y="-8">130</text><text class="m" x="518" y="-8">131</text><text class="m" x="760" y="-8">132</text>
<text class="a" x="272.5" y="75.5">112</text><text class="a" x="514.5" y="75.5">105</text><text class="a" x="756.5" y="75.5">112</text><text class="a" x="998.5" y="75.5">112</text>
<text class="s" x="272.5" y="89">94053</text><text class="s" x="514.5" y="89">94893</text><text class="s" x="756.5" y="89">95789</text><text class="s" x="998.5" y="89">96685</text>
<text class="p" x="272.5" y="102">19.81%</text><text class="p" x="514.5" y="102">7.31%</text><text class="p" x="756.5" y="102">0.00%</text><text class="p" x="998.5" y="102">0.00%</text>
</g>

<g id="row34" transform="translate(0,4858.7)">
<use href="#g4"/>
<rect class="Y" x="243.75" y="26.5" width="393.25" height="7"/><use href="#cS"/>
<use href="#tY"/>
<rect class="bl" x="32" width="140.6" height="60"/><rect class="pk" x="172.6" width="9.3" height="60"/>
<text class="m" x="34" y="-8">133</text><text class="m" x="276" y="-8">134</text><text class="m" x="518" y="-8">135</text><text class="m" x="760" y="-8">136</text>
<text class="a" x="272.5" y="75.5">131</text><text class="a" x="514.5" y="75.5">48</text><text class="a" x="756.5" y="75.5">24</text><text class="a" x="998.5" y="75.5">105</text>
<text class="s" x="272.5" y="89">97609</text><text class="s" x="514.5" y="89">97801</text><text class="s" x="756.5" y="89">97897</text><text class="s" x="998.5" y="89">98317</text>
<text class="p" x="272.5" y="102">0.00%</text><text class="p" x="514.5" y="102">0.00%</text><text class="p" x="756.5" y="102">0.00%</text><text class="p" x="998.5" y="102">0.00%</text>
</g>

<g id="row35" transform="translate(0,4999.7)">
<use href="#g4"/>
<use href="#rA1"/><use href="#rA2"/>
<text class="m" x="34" y="-8">137</text><text class="m" x="276" y="-8">138</text><text class="m" x="518" y="-8">139</text><text class="m" x="760" y="-8">140</text>
<text class="a" x="272.5" y="75.5">112</text><text class="a" x="514.5" y="75.5">105</text><text class="a" x="756.5" y="75.5">112</text><text class="a" x="998.5" y="75.5">112</text>
<text class="s" x="272.5" y="89">98765</text><text class="s" x="514.5" y="89">99185</text><text class="s" x="756.5" y="89">99633</text><text class="s" x="998.5" y="89">100081</text>
<text class="p" x="272.5" y="102">0.00%</text><text class="p" x="514.5" y="102">0.00%</text><text class="p" x="756.5" y="102">0.00%</text><text class="p" x="998.5" y="102">0.00%</text>
</g>

<g id="row36" transform="translate(0,5140.7)">
<use href="#g3"/>
<rect class="Y" x="243.75" y="26.5" width="393.25" height="7"/><use href="#cS"/>
<text class="m" x="34" y="-8">141</text><text class="m" x="276" y="-8">142</text><text class="m" x="518" y="-8">143</text>
<text class="a" x="272.5" y="75.5">131</text><text class="a" x="514.5" y="75.5">48</text><text class="a" x="756.5" y="75.5">24</text>
<text class="s" x="272.5" y="89">100605</text><text class="s" x="514.5" y="89">100797</text><text class="s" x="756.5" y="89">100893</text>
<text class="p" x="272.5" y="102">0.00%</text><text class="p" x="514.5" y="102">0.00%</text><text class="p" x="756.5" y="102">0.00%</text>
</g>
</g>
</svg>
